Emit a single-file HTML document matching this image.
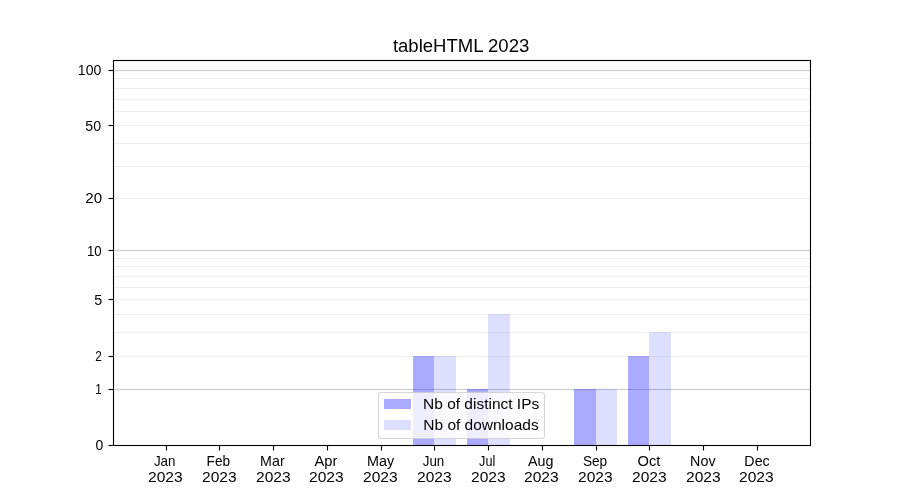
<!DOCTYPE html><html><head><meta charset="utf-8"><title>tableHTML 2023</title><style>html,body{margin:0;padding:0;background:#fff;}body{width:900px;height:500px;overflow:hidden;}svg{display:block;}text{font-family:"Liberation Sans",sans-serif;fill:#000;}</style></head><body>
<svg width="900" height="500" viewBox="0 0 900 500">
<rect x="0" y="0" width="900" height="500" fill="#fff"/>
<g shape-rendering="crispEdges">
<rect x="113" y="389" width="697" height="1" fill="#cccccc"/>
<rect x="113" y="388" width="697" height="1" fill="#000" fill-opacity="0.012"/>
<rect x="113" y="390" width="697" height="1" fill="#000" fill-opacity="0.012"/>
<rect x="113" y="356" width="697" height="1" fill="#eeeeee"/>
<rect x="113" y="332" width="697" height="1" fill="#eeeeee"/>
<rect x="113" y="314" width="697" height="1" fill="#eeeeee"/>
<rect x="113" y="299" width="697" height="1" fill="#eeeeee"/>
<rect x="113" y="287" width="697" height="1" fill="#eeeeee"/>
<rect x="113" y="276" width="697" height="1" fill="#eeeeee"/>
<rect x="113" y="266" width="697" height="1" fill="#eeeeee"/>
<rect x="113" y="258" width="697" height="1" fill="#eeeeee"/>
<rect x="113" y="250" width="697" height="1" fill="#cccccc"/>
<rect x="113" y="249" width="697" height="1" fill="#000" fill-opacity="0.012"/>
<rect x="113" y="251" width="697" height="1" fill="#000" fill-opacity="0.012"/>
<rect x="113" y="198" width="697" height="1" fill="#eeeeee"/>
<rect x="113" y="166" width="697" height="1" fill="#eeeeee"/>
<rect x="113" y="143" width="697" height="1" fill="#eeeeee"/>
<rect x="113" y="125" width="697" height="1" fill="#eeeeee"/>
<rect x="113" y="111" width="697" height="1" fill="#eeeeee"/>
<rect x="113" y="99" width="697" height="1" fill="#eeeeee"/>
<rect x="113" y="88" width="697" height="1" fill="#eeeeee"/>
<rect x="113" y="78" width="697" height="1" fill="#eeeeee"/>
<rect x="113" y="70" width="697" height="1" fill="#cccccc"/>
<rect x="113" y="69" width="697" height="1" fill="#000" fill-opacity="0.012"/>
<rect x="113" y="71" width="697" height="1" fill="#000" fill-opacity="0.012"/>
<rect x="413" y="356" width="21" height="89" fill="#0000ff" fill-opacity="0.3333"/>
<rect x="467" y="389" width="21" height="56" fill="#0000ff" fill-opacity="0.3333"/>
<rect x="574" y="389" width="22" height="56" fill="#0000ff" fill-opacity="0.3333"/>
<rect x="628" y="356" width="21" height="89" fill="#0000ff" fill-opacity="0.3333"/>
<rect x="434" y="356" width="22" height="89" fill="#0000ff" fill-opacity="0.1300"/>
<rect x="488" y="314" width="22" height="131" fill="#0000ff" fill-opacity="0.1300"/>
<rect x="596" y="389" width="21" height="56" fill="#0000ff" fill-opacity="0.1300"/>
<rect x="649" y="332" width="22" height="113" fill="#0000ff" fill-opacity="0.1300"/>
</g>
<g shape-rendering="crispEdges">
<rect x="113" y="60" width="698" height="1" fill="#000"/>
<rect x="113" y="59" width="698" height="1" fill="#000" fill-opacity="0.055"/>
<rect x="113" y="61" width="698" height="1" fill="#000" fill-opacity="0.055"/>
<rect x="113" y="445" width="698" height="1" fill="#000"/>
<rect x="113" y="444" width="698" height="1" fill="#000" fill-opacity="0.055"/>
<rect x="113" y="446" width="698" height="1" fill="#000" fill-opacity="0.055"/>
<rect x="113" y="60" width="1" height="386" fill="#000"/>
<rect x="112" y="60" width="1" height="386" fill="#000" fill-opacity="0.055"/>
<rect x="114" y="60" width="1" height="386" fill="#000" fill-opacity="0.055"/>
<rect x="810" y="60" width="1" height="386" fill="#000"/>
<rect x="809" y="60" width="1" height="386" fill="#000" fill-opacity="0.055"/>
<rect x="811" y="60" width="1" height="386" fill="#000" fill-opacity="0.055"/>
<rect x="109" y="389" width="4" height="1" fill="#000"/>
<rect x="109" y="388" width="4" height="1" fill="#000" fill-opacity="0.055"/>
<rect x="109" y="390" width="4" height="1" fill="#000" fill-opacity="0.055"/>
<rect x="108" y="389" width="1" height="1" fill="#000" fill-opacity="0.5"/>
<rect x="109" y="356" width="4" height="1" fill="#000"/>
<rect x="109" y="355" width="4" height="1" fill="#000" fill-opacity="0.055"/>
<rect x="109" y="357" width="4" height="1" fill="#000" fill-opacity="0.055"/>
<rect x="108" y="356" width="1" height="1" fill="#000" fill-opacity="0.5"/>
<rect x="109" y="299" width="4" height="1" fill="#000"/>
<rect x="109" y="298" width="4" height="1" fill="#000" fill-opacity="0.055"/>
<rect x="109" y="300" width="4" height="1" fill="#000" fill-opacity="0.055"/>
<rect x="108" y="299" width="1" height="1" fill="#000" fill-opacity="0.5"/>
<rect x="109" y="250" width="4" height="1" fill="#000"/>
<rect x="109" y="249" width="4" height="1" fill="#000" fill-opacity="0.055"/>
<rect x="109" y="251" width="4" height="1" fill="#000" fill-opacity="0.055"/>
<rect x="108" y="250" width="1" height="1" fill="#000" fill-opacity="0.5"/>
<rect x="109" y="198" width="4" height="1" fill="#000"/>
<rect x="109" y="197" width="4" height="1" fill="#000" fill-opacity="0.055"/>
<rect x="109" y="199" width="4" height="1" fill="#000" fill-opacity="0.055"/>
<rect x="108" y="198" width="1" height="1" fill="#000" fill-opacity="0.5"/>
<rect x="109" y="125" width="4" height="1" fill="#000"/>
<rect x="109" y="124" width="4" height="1" fill="#000" fill-opacity="0.055"/>
<rect x="109" y="126" width="4" height="1" fill="#000" fill-opacity="0.055"/>
<rect x="108" y="125" width="1" height="1" fill="#000" fill-opacity="0.5"/>
<rect x="109" y="70" width="4" height="1" fill="#000"/>
<rect x="109" y="69" width="4" height="1" fill="#000" fill-opacity="0.055"/>
<rect x="109" y="71" width="4" height="1" fill="#000" fill-opacity="0.055"/>
<rect x="108" y="70" width="1" height="1" fill="#000" fill-opacity="0.5"/>
<rect x="109" y="445" width="4" height="1" fill="#000"/>
<rect x="109" y="444" width="4" height="1" fill="#000" fill-opacity="0.055"/>
<rect x="109" y="446" width="4" height="1" fill="#000" fill-opacity="0.055"/>
<rect x="108" y="445" width="1" height="1" fill="#000" fill-opacity="0.5"/>
<rect x="166" y="446" width="1" height="4" fill="#000"/>
<rect x="165" y="446" width="1" height="4" fill="#000" fill-opacity="0.055"/>
<rect x="167" y="446" width="1" height="4" fill="#000" fill-opacity="0.055"/>
<rect x="166" y="450" width="1" height="1" fill="#000" fill-opacity="0.5"/>
<rect x="219" y="446" width="1" height="4" fill="#000"/>
<rect x="218" y="446" width="1" height="4" fill="#000" fill-opacity="0.055"/>
<rect x="220" y="446" width="1" height="4" fill="#000" fill-opacity="0.055"/>
<rect x="219" y="450" width="1" height="1" fill="#000" fill-opacity="0.5"/>
<rect x="273" y="446" width="1" height="4" fill="#000"/>
<rect x="272" y="446" width="1" height="4" fill="#000" fill-opacity="0.055"/>
<rect x="274" y="446" width="1" height="4" fill="#000" fill-opacity="0.055"/>
<rect x="273" y="450" width="1" height="1" fill="#000" fill-opacity="0.5"/>
<rect x="327" y="446" width="1" height="4" fill="#000"/>
<rect x="326" y="446" width="1" height="4" fill="#000" fill-opacity="0.055"/>
<rect x="328" y="446" width="1" height="4" fill="#000" fill-opacity="0.055"/>
<rect x="327" y="450" width="1" height="1" fill="#000" fill-opacity="0.5"/>
<rect x="381" y="446" width="1" height="4" fill="#000"/>
<rect x="380" y="446" width="1" height="4" fill="#000" fill-opacity="0.055"/>
<rect x="382" y="446" width="1" height="4" fill="#000" fill-opacity="0.055"/>
<rect x="381" y="450" width="1" height="1" fill="#000" fill-opacity="0.5"/>
<rect x="434" y="446" width="1" height="4" fill="#000"/>
<rect x="433" y="446" width="1" height="4" fill="#000" fill-opacity="0.055"/>
<rect x="435" y="446" width="1" height="4" fill="#000" fill-opacity="0.055"/>
<rect x="434" y="450" width="1" height="1" fill="#000" fill-opacity="0.5"/>
<rect x="488" y="446" width="1" height="4" fill="#000"/>
<rect x="487" y="446" width="1" height="4" fill="#000" fill-opacity="0.055"/>
<rect x="489" y="446" width="1" height="4" fill="#000" fill-opacity="0.055"/>
<rect x="488" y="450" width="1" height="1" fill="#000" fill-opacity="0.5"/>
<rect x="542" y="446" width="1" height="4" fill="#000"/>
<rect x="541" y="446" width="1" height="4" fill="#000" fill-opacity="0.055"/>
<rect x="543" y="446" width="1" height="4" fill="#000" fill-opacity="0.055"/>
<rect x="542" y="450" width="1" height="1" fill="#000" fill-opacity="0.5"/>
<rect x="596" y="446" width="1" height="4" fill="#000"/>
<rect x="595" y="446" width="1" height="4" fill="#000" fill-opacity="0.055"/>
<rect x="597" y="446" width="1" height="4" fill="#000" fill-opacity="0.055"/>
<rect x="596" y="450" width="1" height="1" fill="#000" fill-opacity="0.5"/>
<rect x="649" y="446" width="1" height="4" fill="#000"/>
<rect x="648" y="446" width="1" height="4" fill="#000" fill-opacity="0.055"/>
<rect x="650" y="446" width="1" height="4" fill="#000" fill-opacity="0.055"/>
<rect x="649" y="450" width="1" height="1" fill="#000" fill-opacity="0.5"/>
<rect x="703" y="446" width="1" height="4" fill="#000"/>
<rect x="702" y="446" width="1" height="4" fill="#000" fill-opacity="0.055"/>
<rect x="704" y="446" width="1" height="4" fill="#000" fill-opacity="0.055"/>
<rect x="703" y="450" width="1" height="1" fill="#000" fill-opacity="0.5"/>
<rect x="757" y="446" width="1" height="4" fill="#000"/>
<rect x="756" y="446" width="1" height="4" fill="#000" fill-opacity="0.055"/>
<rect x="758" y="446" width="1" height="4" fill="#000" fill-opacity="0.055"/>
<rect x="757" y="450" width="1" height="1" fill="#000" fill-opacity="0.5"/>
</g>
<path d="M381.3,392.5 L541.7,392.5 Q544.5,392.5 544.5,395.3 L544.5,435.7 Q544.5,438.5 541.7,438.5 L381.3,438.5 Q378.5,438.5 378.5,435.7 L378.5,395.3 Q378.5,392.5 381.3,392.5 Z" fill="#fff" fill-opacity="0.8" stroke="#cccccc" stroke-opacity="0.8" stroke-width="1.11"/>
<g shape-rendering="crispEdges">
<rect x="384" y="399" width="27" height="10" fill="#0000ff" fill-opacity="0.3333"/>
<rect x="384" y="420" width="27" height="10" fill="#0000ff" fill-opacity="0.13"/>
</g>
<g opacity="0.999">
<text transform="translate(392.906,51.500) scale(1.0607,1)" font-size="17.500">tableHTML 2023</text>
<text transform="translate(153.906,465.500) scale(0.9167,1)" font-size="14.583">Jan</text>
<text transform="translate(148.042,481.500) scale(1.0676,1)" font-size="14.583">2023</text>
<text transform="translate(206.586,465.500) scale(0.9327,1)" font-size="14.583">Feb</text>
<text transform="translate(202.042,481.500) scale(1.0676,1)" font-size="14.583">2023</text>
<text transform="translate(260.102,465.500) scale(0.9778,1)" font-size="14.583">Mar</text>
<text transform="translate(256.042,481.500) scale(1.0676,1)" font-size="14.583">2023</text>
<text transform="translate(314.499,465.500) scale(1.0120,1)" font-size="14.583">Apr</text>
<text transform="translate(309.042,481.500) scale(1.0676,1)" font-size="14.583">2023</text>
<text transform="translate(367.096,465.500) scale(0.9862,1)" font-size="14.583">May</text>
<text transform="translate(363.042,481.500) scale(1.0676,1)" font-size="14.583">2023</text>
<text transform="translate(422.747,465.500) scale(0.9167,1)" font-size="14.583">Jun</text>
<text transform="translate(417.042,481.500) scale(1.0676,1)" font-size="14.583">2023</text>
<text transform="translate(479.097,465.500) scale(0.8684,1)" font-size="14.583">Jul</text>
<text transform="translate(471.042,481.500) scale(1.0676,1)" font-size="14.583">2023</text>
<text transform="translate(527.992,465.500) scale(0.9821,1)" font-size="14.583">Aug</text>
<text transform="translate(524.042,481.500) scale(1.0676,1)" font-size="14.583">2023</text>
<text transform="translate(582.879,465.500) scale(0.9370,1)" font-size="14.583">Sep</text>
<text transform="translate(578.042,481.500) scale(1.0676,1)" font-size="14.583">2023</text>
<text transform="translate(637.582,465.500) scale(1.0083,1)" font-size="14.583">Oct</text>
<text transform="translate(632.042,481.500) scale(1.0676,1)" font-size="14.583">2023</text>
<text transform="translate(690.099,465.500) scale(0.9821,1)" font-size="14.583">Nov</text>
<text transform="translate(686.042,481.500) scale(1.0676,1)" font-size="14.583">2023</text>
<text transform="translate(744.352,465.500) scale(0.9778,1)" font-size="14.583">Dec</text>
<text transform="translate(739.042,481.500) scale(1.0676,1)" font-size="14.583">2023</text>
<text transform="translate(95.612,449.500) scale(0.9625,1)" font-size="14.583">0</text>
<text transform="translate(95.214,393.500) scale(0.8082,1)" font-size="14.583">1</text>
<text transform="translate(95.214,360.500) scale(0.8082,1)" font-size="14.583">2</text>
<text transform="translate(94.349,304.500) scale(0.9826,1)" font-size="14.583">5</text>
<text transform="translate(86.900,255.500) scale(0.9059,1)" font-size="14.583">10</text>
<text transform="translate(85.314,202.500) scale(1.0353,1)" font-size="14.583">20</text>
<text transform="translate(85.357,130.500) scale(0.9706,1)" font-size="14.583">50</text>
<text transform="translate(77.858,74.500) scale(0.9680,1)" font-size="14.583">100</text>
<text transform="translate(423.045,408.500) scale(1.0628,1)" font-size="14.583">Nb of distinct IPs</text>
<text transform="translate(423.296,429.500) scale(1.0627,1)" font-size="14.583">Nb of downloads</text>
</g>
</svg></body></html>
